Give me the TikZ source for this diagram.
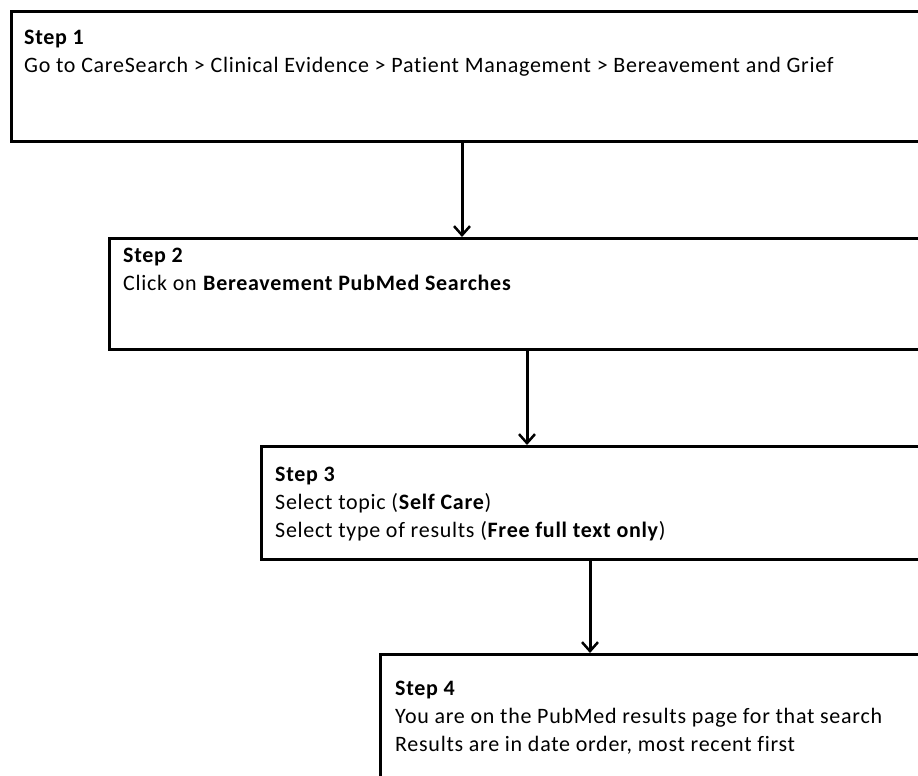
\documentclass[tikz,border=0pt]{standalone}
\usepackage{fontspec}
\setmainfont{Carlito}[LetterSpace=3.3,Ligatures=NoCommon]
\usetikzlibrary{arrows.meta}
\begin{document}
\begin{tikzpicture}[x=1pt,y=-1pt,
  stepbox/.style={draw=black,line width=3pt,fill=white,anchor=north west,inner sep=0pt},
  steptext/.style={anchor=north west,inner sep=0pt,align=left,font=\fontsize{22}{28}\selectfont},
  arr/.style={line width=3pt,-{Straight Barb[length=9pt,width=16pt,line width=2.5pt]}}]
\useasboundingbox (0,0) rectangle (918,776);
\clip (0,0) rectangle (918,776);
\fill[white] (0,0) rectangle (918,776);
\node[stepbox,minimum width=920pt,minimum height=130pt] (b1) at (10,10) {};
\node[stepbox,minimum width=830pt,minimum height=111pt] (b2) at (108,237) {};
\node[stepbox,minimum width=680pt,minimum height=113pt] (b3) at (260,445) {};
\node[stepbox,minimum width=560pt,minimum height=140pt] (b4) at (379,653) {};
\node[steptext] (t1) at (24,30) {\textbf{Step 1}\\Go to CareSearch > Clinical Evidence > Patient Management > Bereavement and Grief};
\node[steptext] (t2) at (123,248) {\textbf{Step 2}\\Click on \textbf{Bereavement PubMed Searches}};
\node[steptext] (t3) at (275,467) {\textbf{Step 3}\\Select topic (\textbf{Self Care})\\Select type of results (\textbf{Free full text only})};
\node[steptext] (t4) at (395,681) {\textbf{Step 4}\\You are on the PubMed results page for that search\\Results are in date order, most recent first};
\coordinate (a1) at (462,0);
\coordinate (a2) at (527,0);
\coordinate (a3) at (590,0);
\draw[arr] (b1.south -| a1) -- (b2.north -| a1);
\draw[arr] (b2.south -| a2) -- (b3.north -| a2);
\draw[arr] (b3.south -| a3) -- (b4.north -| a3);
\end{tikzpicture}
\end{document}
